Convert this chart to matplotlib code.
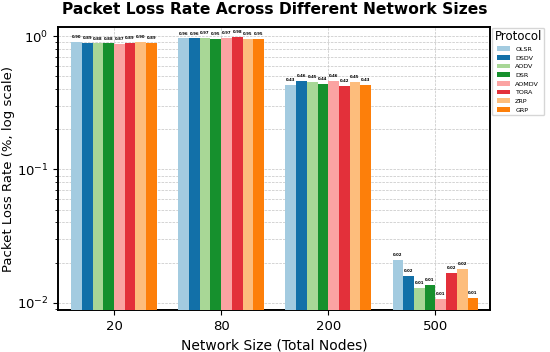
import numpy as np
import matplotlib
matplotlib.use("Agg")
import matplotlib.pyplot as plt

# data
sizes = ["20", "80", "200", "500"]
protocols = ["OLSR", "DSDV", "AODV", "DSR", "AOMDV", "TORA", "ZRP", "GRP"]
olsr = [0.90, 0.96, 0.43, 0.0210]
dsdv = [0.89, 0.96, 0.46, 0.0158]
aodv = [0.88, 0.97, 0.45, 0.0130]
dsr = [0.88, 0.95, 0.44, 0.0136]
aomdv = [0.87, 0.97, 0.46, 0.0107]
tora = [0.89, 0.98, 0.42, 0.0167]
zrp = [0.90, 0.95, 0.45, 0.0180]
grp = [0.89, 0.95, 0.43, 0.0109]
series = [olsr, dsdv, aodv, dsr, aomdv, tora, zrp, grp]

colors = ["#a3cbe0", "#1270a8", "#a8d796", "#16902d",
          "#fba3a2", "#e3303a", "#fdbd7c", "#fd7f0a"]

fig, ax = plt.subplots(figsize=(5.5, 3.52), dpi=100)
x = np.arange(len(sizes))
w = 0.1
for i, (name, vals) in enumerate(zip(protocols, series)):
    pos = x + (i - 3.5) * w
    bars = ax.bar(pos, vals, w, color=colors[i], label=name, zorder=3)
    for b, v in zip(bars, vals):
        ax.text(b.get_x() + b.get_width() / 2, v * 1.05, f"{v:.2f}",
                ha="center", va="bottom", fontsize=2.8, fontweight="bold")

ax.set_yscale("log")
ax.set_ylim(0.0088, 1.168)
ax.set_xlim(-0.52, 3.51)
ax.set_xticks(x)
ax.set_xticklabels(sizes, fontsize=9.5)
ax.tick_params(axis="y", labelsize=9.5)
ax.grid(True, which="both", linestyle="--", linewidth=0.5, color="#c4c4c4", zorder=0)
for s in ax.spines.values():
    s.set_linewidth(1.4)

fig.suptitle("Packet Loss Rate Across Different Network Sizes",
             fontsize=11.2, fontweight="bold", x=0.5, y=0.995)
ax.set_xlabel("Network Size (Total Nodes)", fontsize=10)
ax.set_ylabel("Packet Loss Rate (%, log scale)", fontsize=9.5, labelpad=1.5)

leg = ax.legend(title="Protocol", bbox_to_anchor=(1.003, 1.0), loc="upper left",
                fontsize=4.6, title_fontsize=8.5, borderaxespad=0.1)

plt.subplots_adjust(left=0.106, right=0.891, top=0.923, bottom=0.119)
fig.savefig("out.png", dpi=100)
